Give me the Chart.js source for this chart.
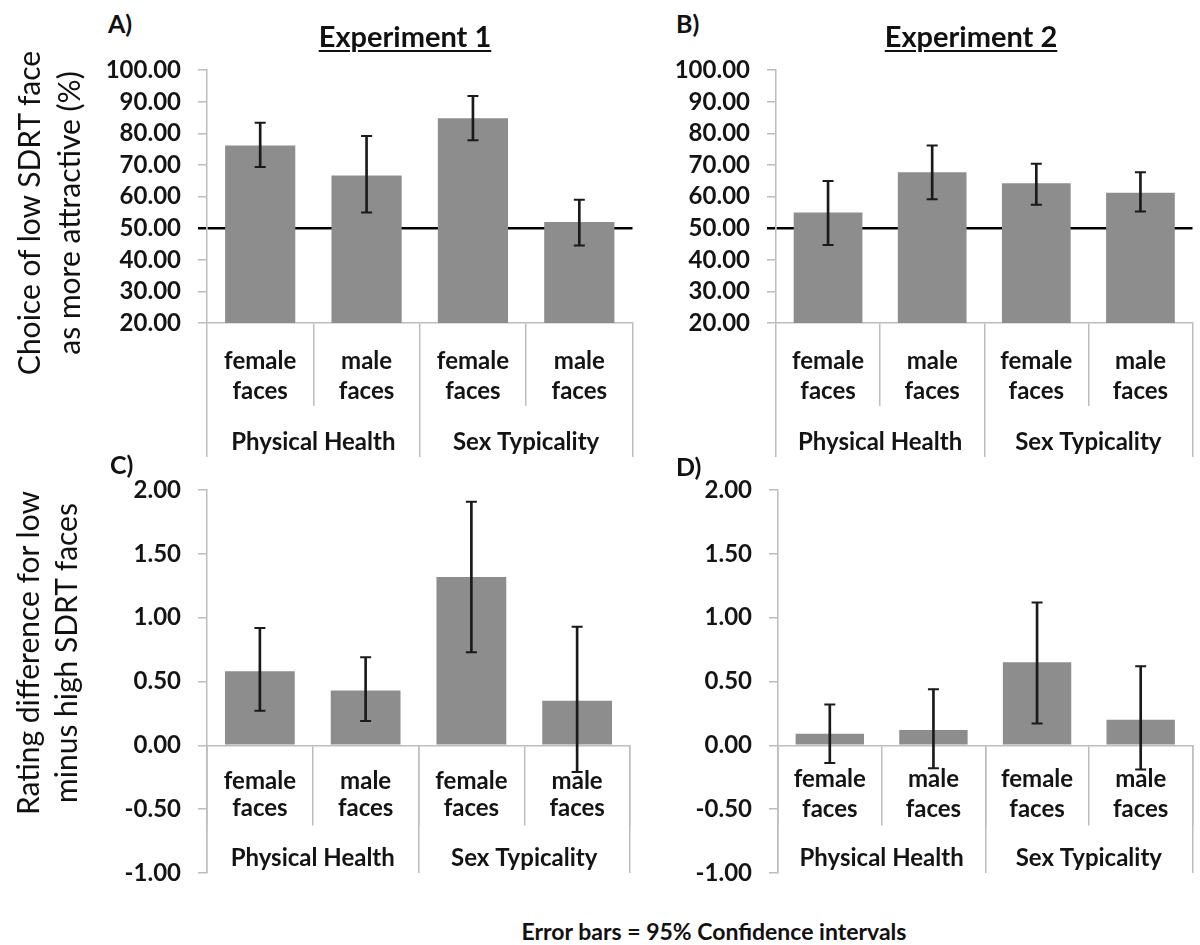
<!DOCTYPE html>
<html><head><meta charset="utf-8">
<script src="https://cdn.jsdelivr.net/npm/chart.js@4.4.1/dist/chart.umd.min.js"></script>
<style>
html,body{margin:0;padding:0;background:#fff;}
body{width:1200px;height:945px;overflow:hidden;position:relative;font-family:Lato,sans-serif;color:#111;}
canvas{position:absolute;}
.t{position:absolute;white-space:nowrap;line-height:1;}
.b{font-weight:bold;}
.ytitle{position:absolute;text-align:center;font-size:30px;transform:rotate(-90deg);white-space:nowrap;}
</style></head><body>
<canvas id="cA" width="640" height="426" style="left:0;top:40px"></canvas>
<canvas id="cB" width="600" height="426" style="left:600px;top:40px"></canvas>
<canvas id="cC" width="640" height="443" style="left:0;top:460px"></canvas>
<canvas id="cD" width="600" height="443" style="left:600px;top:460px"></canvas>

<div class="t b" style="left:108px;top:11px;font-size:25px">A)</div>
<div class="t b" style="left:676px;top:11px;font-size:25px">B)</div>
<div class="t b" style="left:110px;top:452px;font-size:25px">C)</div>
<div class="t b" style="left:676px;top:454px;font-size:25px">D)</div>
<div class="t b" style="left:405px;top:21px;font-size:29px;transform:translateX(-50%);text-decoration:underline;text-decoration-thickness:2px;text-underline-offset:3px">Experiment 1</div>
<div class="t b" style="left:971px;top:21px;font-size:29px;transform:translateX(-50%);text-decoration:underline;text-decoration-thickness:2px;text-underline-offset:3px">Experiment 2</div>
<div class="ytitle" style="left:-152px;top:173px;width:400px;height:80px;line-height:40px">Choice of low SDRT face<br>as more attractive (%)</div>
<div class="ytitle" style="left:-154px;top:615px;width:400px;height:76px;line-height:38px">Rating difference for low<br>minus high SDRT faces</div>
<div class="t b" style="left:714px;top:920px;font-size:23px;transform:translateX(-50%)">Error bars = 95% Confidence intervals</div>

<script>
// ---- data ----
const categories = [['female', 'faces'], ['male', 'faces'], ['female', 'faces'], ['male', 'faces']];
const groups = ['Physical Health', 'Sex Typicality'];

const exp1Choice     = [76.2, 66.7, 84.8, 52.0];
const exp1ChoiceLow  = [69.4, 55.0, 77.8, 44.5];
const exp1ChoiceHigh = [83.4, 79.2, 91.8, 59.0];

const exp2Choice     = [55.0, 67.7, 64.2, 61.2];
const exp2ChoiceLow  = [44.7, 59.2, 57.4, 55.3];
const exp2ChoiceHigh = [64.9, 76.2, 70.4, 67.7];

const exp1Rating     = [0.58, 0.43, 1.32, 0.35];
const exp1RatingLow  = [0.27, 0.19, 0.73, -0.21];
const exp1RatingHigh = [0.92, 0.69, 1.91, 0.93];

const exp2Rating     = [0.09, 0.12, 0.65, 0.20];
const exp2RatingLow  = [-0.14, -0.18, 0.17, -0.19];
const exp2RatingHigh = [0.32, 0.44, 1.12, 0.62];

const choiceAxis = [20, 100, 10];   // min, max, step
const ratingAxis = [-1, 2, 0.5];
const chanceLevel = 50;

// ---- styles ----
const FONT = 'Lato';
const BAR = '#8d8d8d';
const ERR = '#1a1a1a';
const LINE = '#bdbdbd';
const TXT = '#141414';

function makeChart(id, o) {
  const stems = o.low.map((l, i) => [l, o.high[i]]);
  const catFont = {family: FONT, size: 24, weight: 'bold', lineHeight: o.catLH};
  const xPos = o.atZero ? {y: 0} : 'bottom';
  const isRef = c => o.ref != null && c.tick && c.tick.value === o.ref;
  new Chart(document.getElementById(id), {
    data: {
      labels: categories,
      datasets: [
        {type: 'line', data: o.high, showLine: false, pointStyle: 'line', pointRadius: 5.5,
         pointBorderWidth: 2, pointBorderColor: ERR, borderColor: ERR, order: 0, xAxisID: 'x', yAxisID: 'y'},
        {type: 'line', data: o.low, showLine: false, pointStyle: 'line', pointRadius: 5.5,
         pointBorderWidth: 2, pointBorderColor: ERR, borderColor: ERR, order: 0, xAxisID: 'x', yAxisID: 'y'},
        {type: 'bar', data: stems, backgroundColor: ERR, barThickness: 2, grouped: false, order: 1,
         xAxisID: 'x', yAxisID: 'y'},
        {type: 'bar', data: o.values, backgroundColor: BAR, barPercentage: 0.66, categoryPercentage: 1,
         order: 3, xAxisID: 'x', yAxisID: 'y'}
      ]
    },
    options: {
      responsive: false, animation: false, events: [],
      devicePixelRatio: 1,
      layout: {padding: o.pad},
      plugins: {legend: {display: false}, tooltip: {enabled: false}},
      scales: {
        y: {
          type: 'linear', position: 'left', min: o.axis[0], max: o.axis[1], z: 1,
          afterFit: s => { s.width = o.yW; },
          ticks: {stepSize: o.axis[2], color: TXT, padding: 17, autoSkip: false,
                  font: {family: FONT, size: 24, weight: 'bold', lineHeight: 1.1},
                  callback: v => Number(v).toFixed(2)},
          grid: {
            drawOnChartArea: o.ref != null,
            color: c => isRef(c) ? '#000' : 'rgba(0,0,0,0)',
            lineWidth: c => isRef(c) ? 2.5 : 1.5,
            tickColor: c => isRef(c) ? '#000' : LINE,
            tickWidth: c => isRef(c) ? 2.5 : 1.5,
            tickLength: 9
          },
          border: {color: LINE, width: 1.5}
        },
        x: {
          type: 'category', position: xPos, offset: true,
          afterFit: s => { s.height = o.catTL; },
          grid: {offset: true, drawOnChartArea: false, tickLength: o.catTL, color: LINE, lineWidth: 1.5},
          border: {color: LINE, width: 1.5},
          ticks: {font: catFont, color: TXT, padding: o.catPad, maxRotation: 0, autoSkip: false}
        },
        x2: {
          type: 'category', labels: groups, position: xPos, offset: true,
          afterFit: s => { s.height = o.grpH; },
          grid: {offset: true, drawOnChartArea: false, tickLength: o.grpTL, color: LINE, lineWidth: 1.5},
          border: {display: false},
          ticks: {font: {family: FONT, size: 24, weight: 'bold', lineHeight: 1.25}, color: TXT,
                  padding: o.grpPad, maxRotation: 0, autoSkip: false}
        }
      }
    }
  });
}

makeChart('cA', {values: exp1Choice, low: exp1ChoiceLow, high: exp1ChoiceHigh, axis: choiceAxis, ref: chanceLevel,
  yW: 207, pad: {top: 28, right: 4, left: 0, bottom: 0}, atZero: false,
  catTL: 83, catLH: 1.25, catPad: -60, grpH: 60, grpTL: 51, grpPad: -30});
makeChart('cB', {values: exp2Choice, low: exp2ChoiceLow, high: exp2ChoiceHigh, axis: choiceAxis, ref: chanceLevel,
  yW: 176, pad: {top: 27, right: 0, left: 0, bottom: 0}, atZero: false,
  catTL: 83, catLH: 1.25, catPad: -60, grpH: 60, grpTL: 51, grpPad: -30});
makeChart('cC', {values: exp1Rating, low: exp1RatingLow, high: exp1RatingHigh, axis: ratingAxis, ref: null,
  yW: 207, pad: {top: 29, right: 10, left: 0, bottom: 20}, atZero: true,
  catTL: 79, catLH: 1.12, catPad: -56, grpH: 0, grpTL: 128, grpPad: -30});
makeChart('cD', {values: exp2Rating, low: exp2RatingLow, high: exp2RatingHigh, axis: ratingAxis, ref: null,
  yW: 178, pad: {top: 29, right: 1, left: 0, bottom: 20}, atZero: true,
  catTL: 79, catLH: 1.25, catPad: -60, grpH: 0, grpTL: 128, grpPad: -30});
</script>
</body></html>
